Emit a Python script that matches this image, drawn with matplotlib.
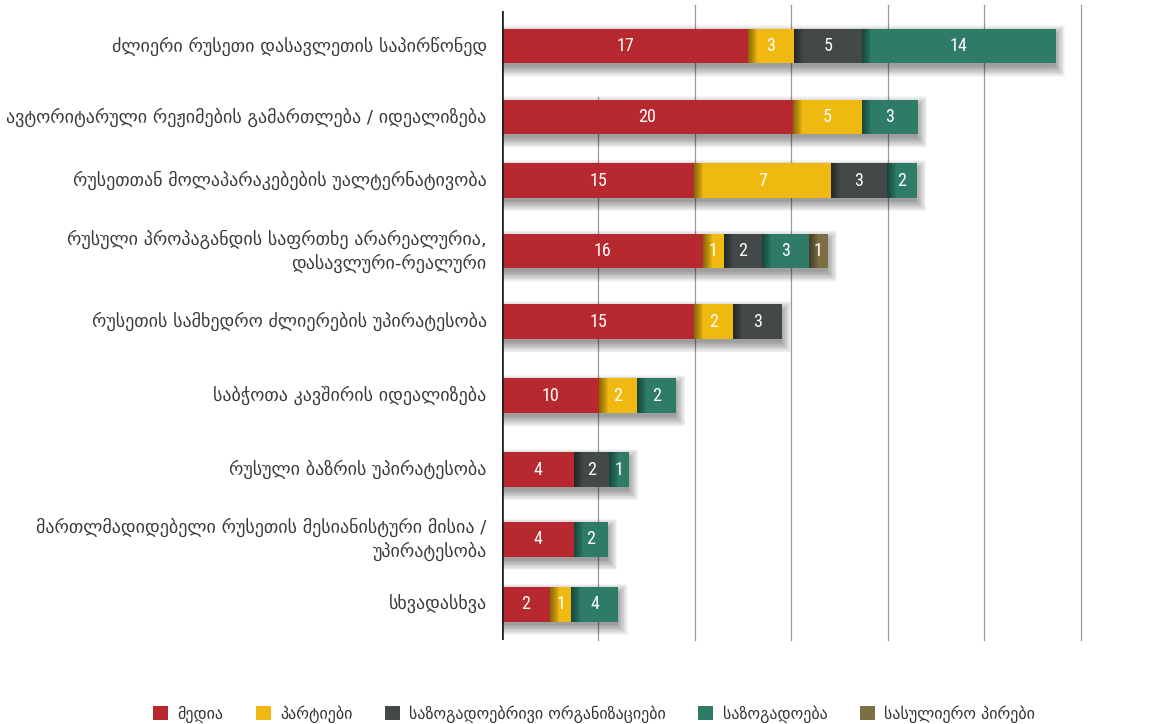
import matplotlib
matplotlib.use("Agg")
import matplotlib.pyplot as plt
from matplotlib.patches import Patch

plt.rcParams['font.family'] = ['DejaVu Sans']

# categories, top to bottom
categories = [
    "ძლიერი რუსეთი დასავლეთის საპირწონედ",
    "ავტორიტარული რეჟიმების გამართლება / იდეალიზება",
    "რუსეთთან მოლაპარაკებების უალტერნატივობა",
    "რუსული პროპაგანდის საფრთხე არარეალურია,\nდასავლური-რეალური",
    "რუსეთის სამხედრო ძლიერების უპირატესობა",
    "საბჭოთა კავშირის იდეალიზება",
    "რუსული ბაზრის უპირატესობა",
    "მართლმადიდებელი რუსეთის მესიანისტური მისია /\nუპირატესობა",
    "სხვადასხვა",
]

series = ["მედია", "პარტიები", "საზოგადოებრივი ორგანიზაციები",
          "საზოგადოება", "სასულიერო პირები"]
colors = ["#B8282F", "#F0B910", "#434849", "#2E7B67", "#7C6F43"]

# numbers printed on the segments
counts = [
    [17, 20, 15, 16, 15, 10, 4, 4, 2],
    [3, 5, 7, 1, 2, 2, 0, 0, 1],
    [5, 0, 3, 2, 3, 0, 2, 0, 0],
    [14, 3, 2, 3, 0, 2, 1, 2, 4],
    [0, 0, 0, 1, 0, 0, 0, 0, 0],
]

# segment lengths as drawn in the chart (grid step = 5)
lengths = [
    [12.75, 15.08, 9.95, 10.41, 9.95, 5.03, 3.73, 3.73, 2.49],
    [2.38, 3.58, 7.10, 1.09, 2.02, 1.97, 0, 0, 1.09],
    [3.52, 0, 2.90, 1.97, 2.54, 0, 1.81, 0, 0],
    [10.05, 2.90, 1.55, 2.44, 0, 2.02, 1.04, 1.76, 2.44],
    [0, 0, 0, 0.98, 0, 0, 0, 0, 0],
]

grid_x = [5, 10, 15, 20, 25, 30]

# row positions (slightly irregular, as in the source)
ypos = [0, 1.02, 1.93, 2.94, 3.95, 5.01, 6.07, 7.07, 8.0]
bar_h = 0.494

W, H = 1175, 724
fig = plt.figure(figsize=(W / 100, H / 100), dpi=100)
ax = fig.add_axes([502 / W, 1 - 640 / H, 598 / W, 629 / H])
ax.set_xlim(0, 31)
ax.set_ylim(8.51, -0.50)
ax.axis('off')

px_x = 1 / 19.3   # one pixel in x units
px_y = 1 / 69.81  # one pixel in y units

# grid
for g in grid_x:
    top = 0.863 if g == 5 else 1.01
    ax.axvline(g, ymin=0, ymax=top, color="#9a9a9a", lw=0.9, zorder=1, clip_on=False)
ax.axvline(0, ymin=0, ymax=1, color="#1e1e1e", lw=1.9, zorder=6)

n = len(categories)
for i in range(n):
    total = sum(lengths[s][i] for s in range(len(series)))
    # soft drop shadow
    for k in range(14):
        e = (13 - k) * 0.8
        ax.barh(ypos[i] + 5 * px_y, total + (2 * e - 2) * px_x, left=(1 - e) * px_x,
                height=bar_h + (2 * e - 4) * px_y, color="black", alpha=0.03,
                lw=0, zorder=2)
    left = 0
    first = True
    for s in range(len(series)):
        w = lengths[s][i]
        if w <= 0:
            continue
        ax.barh(ypos[i], w, left=left, height=bar_h, color=colors[s], lw=0, zorder=3)
        if not first:
            # shadow cast by previous segment
            for k in range(1, 10):
                ax.barh(ypos[i], min(k, w / px_x) * px_x, left=left, height=bar_h,
                        color="black", alpha=0.055, lw=0, zorder=4)
        ax.text(left + w / 2, ypos[i], str(counts[s][i]), ha="center", va="center",
                color="white", fontsize=13, zorder=5, fontstretch="condensed",
                family=['Roboto Condensed', 'Liberation Sans Narrow', 'DejaVu Sans'])
        left += w
        first = False
    ax.annotate(categories[i], xy=(0, ypos[i]), xytext=(-11, 0),
                textcoords="offset points", ha="right", va="center",
                fontsize=13.0, color="#3a3a3a", linespacing=1.35,
                annotation_clip=False)

handles = [Patch(facecolor=c, edgecolor="none") for c in colors]
fig.legend(handles, series, loc="center", bbox_to_anchor=(594 / W, 1 - 714 / H),
           ncol=5, frameon=False, fontsize=11.5, handlelength=0.95, handleheight=0.95,
           handletextpad=0.6, columnspacing=2.0, labelcolor="#333333")

fig.savefig("out.png", dpi=100)
